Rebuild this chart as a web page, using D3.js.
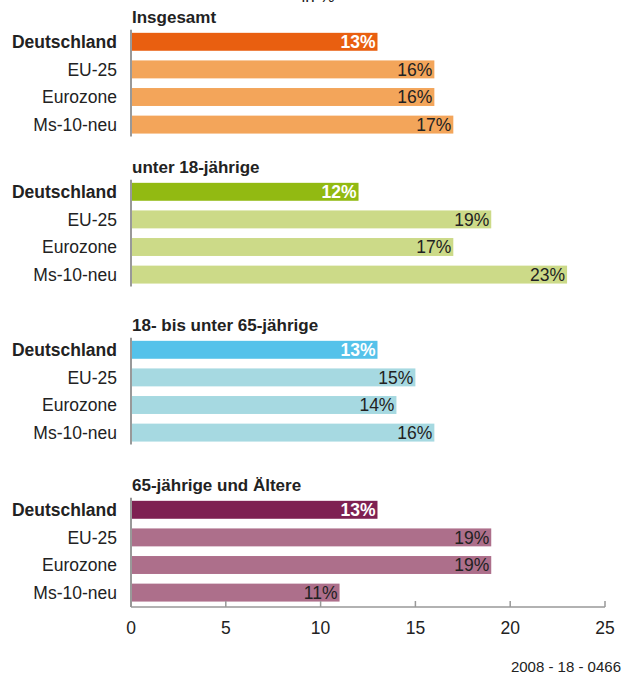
<!DOCTYPE html>
<html>
<head>
<meta charset="utf-8">
<script src="https://cdn.jsdelivr.net/npm/d3@7"></script>
<style>
  body { margin: 0; background: #fff; }
  svg text { font-family: "Liberation Sans", Arial, sans-serif; }
</style>
</head>
<body>
<script>
// data
var groups = ["Insgesamt", "unter 18-jährige", "18- bis unter 65-jährige", "65-jährige und Ältere"];
var regions = ["Deutschland", "EU-25", "Eurozone", "Ms-10-neu"];
var insgesamt = [13, 16, 16, 17];
var unter18 = [12, 19, 17, 23];
var von18bis65 = [13, 15, 14, 16];
var ab65 = [13, 19, 19, 11];
var xTicks = [0, 5, 10, 15, 20, 25];

var series = [insgesamt, unter18, von18bis65, ab65];
var darkColors = ["#E95F10", "#92BA12", "#55C2EA", "#7E2152"];
var lightColors = ["#F3A55A", "#CCDA88", "#A6D9E1", "#AD6F8B"];

var width = 626, height = 674;

var svg = d3.select("body").append("svg")
    .attr("width", width)
    .attr("height", height);

var x = d3.scaleLinear().domain([0, 25]).range([131, 605]);

// top of each group block
var groupY = d3.scaleOrdinal().domain(groups).range([28, 178, 336, 496]);

// rows inside a group
var rowY = d3.scaleBand().domain(regions)
    .range([0, 4 * 27.6])
    .paddingInner(0.35)
    .paddingOuter(0.175);

// "in %" (cut off at the top, as in the original)
svg.append("text")
    .attr("x", 318).attr("y", 2)
    .attr("text-anchor", "middle")
    .style("font-size", "17px")
    .attr("fill", "#222")
    .text("in %");

groups.forEach(function(g, gi) {
    var top = groupY(g);
    var gEl = svg.append("g").attr("transform", "translate(0," + top + ")");

    // group title
    gEl.append("text")
        .attr("x", x(0) + 1)
        .attr("y", -5)
        .style("font-size", "17px")
        .style("font-weight", "bold")
        .attr("fill", "#222")
        .text(g);

    var data = regions.map(function(r, i) { return { region: r, value: series[gi][i], i: i }; });

    gEl.selectAll("rect.bar")
        .data(data)
        .enter().append("rect").attr("class", "bar")
        .attr("x", x(0))
        .attr("y", function(d) { return rowY(d.region); })
        .attr("width", function(d) { return x(d.value) - x(0); })
        .attr("height", rowY.bandwidth())
        .attr("fill", function(d) { return d.i === 0 ? darkColors[gi] : lightColors[gi]; });

    // value labels
    gEl.selectAll("text.val")
        .data(data)
        .enter().append("text").attr("class", "val")
        .attr("x", function(d) { return x(d.value) - 2; })
        .attr("y", function(d) { return rowY(d.region) + rowY.bandwidth() / 2; })
        .attr("dy", "0.36em")
        .attr("text-anchor", "end")
        .style("font-size", "17.5px")
        .style("font-weight", function(d) { return d.i === 0 ? "bold" : "normal"; })
        .attr("fill", function(d) { return d.i === 0 ? "#fff" : "#222"; })
        .text(function(d) { return d.value + "%"; });

    // category labels
    gEl.selectAll("text.cat")
        .data(data)
        .enter().append("text").attr("class", "cat")
        .attr("x", 117)
        .attr("y", function(d) { return rowY(d.region) + rowY.bandwidth() / 2; })
        .attr("dy", "0.36em")
        .attr("text-anchor", "end")
        .style("font-size", "17.5px")
        .style("font-weight", function(d) { return d.i === 0 ? "bold" : "normal"; })
        .attr("fill", "#222")
        .text(function(d) { return d.region; });

    // vertical base line for the group
    var y1 = rowY(regions[0]) - 3;
    var y2 = gi === groups.length - 1 ? 607 - top : rowY(regions[3]) + rowY.bandwidth() + 3;
    gEl.append("line")
        .attr("x1", x(0)).attr("x2", x(0))
        .attr("y1", y1).attr("y2", y2)
        .attr("stroke", "#999")
        .attr("stroke-width", 2);
});

// x axis
var axis = svg.append("g").attr("transform", "translate(0,607)");
axis.append("line")
    .attr("x1", x(0)).attr("x2", x(25))
    .attr("y1", 0).attr("y2", 0)
    .attr("stroke", "#999").attr("stroke-width", 1.5);
axis.selectAll("line.tick")
    .data(xTicks)
    .enter().append("line").attr("class", "tick")
    .attr("x1", function(d) { return x(d); })
    .attr("x2", function(d) { return x(d); })
    .attr("y1", 0).attr("y2", -6)
    .attr("stroke", "#999").attr("stroke-width", 1.5);
axis.selectAll("text")
    .data(xTicks)
    .enter().append("text")
    .attr("x", function(d) { return x(d); })
    .attr("y", 21)
    .attr("dy", "0.36em")
    .attr("text-anchor", "middle")
    .style("font-size", "17.5px")
    .attr("fill", "#222")
    .text(function(d) { return d; });

// footer
svg.append("text")
    .attr("x", 621).attr("y", 672)
    .attr("text-anchor", "end")
    .style("font-size", "15px")
    .attr("fill", "#222")
    .text("2008 - 18 - 0466");
</script>
</body>
</html>
